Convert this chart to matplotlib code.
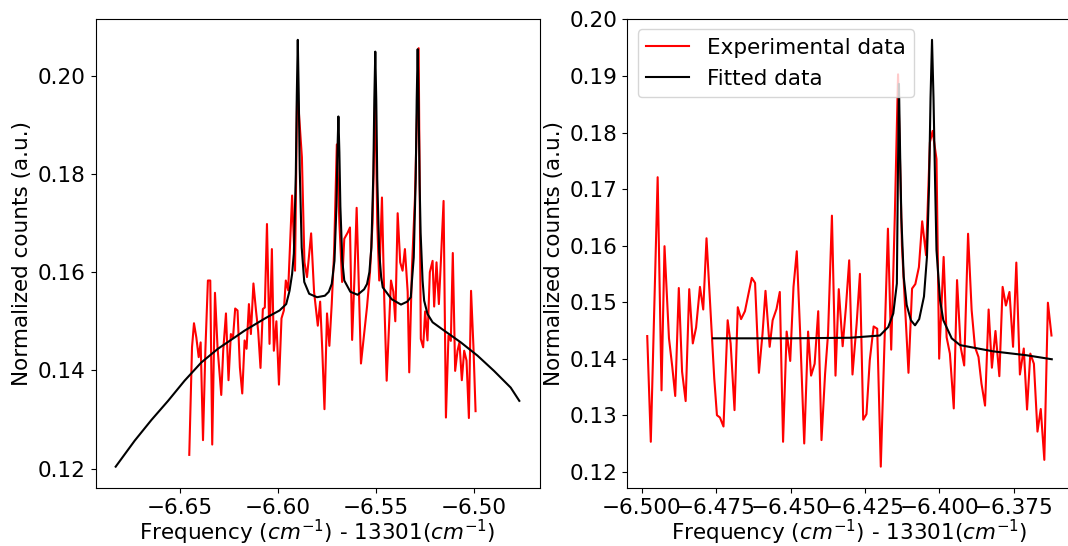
import numpy as np
import matplotlib
matplotlib.use("Agg")
import matplotlib.pyplot as plt

# Left panel - experimental data
x_exp_a = [-6.6451, -6.6437, -6.6427, -6.6415, -6.6403, -6.6393, -6.6381, -6.6369, -6.6356, -6.6344,
           -6.6334, -6.6320, -6.6307, -6.6288, -6.6278, -6.6264, -6.6251, -6.6239, -6.6228, -6.6217,
           -6.6205, -6.6193, -6.6181, -6.6169, -6.6159, -6.6147, -6.6137, -6.6124, -6.6111, -6.6100,
           -6.6088, -6.6076, -6.6066, -6.6055, -6.6042, -6.6030, -6.6020, -6.6007, -6.5994, -6.5981,
           -6.5969, -6.5959, -6.5947, -6.5927, -6.5912, -6.5901, -6.5877, -6.5864, -6.5851, -6.5830,
           -6.5815, -6.5796, -6.5784, -6.5773, -6.5762, -6.5749, -6.5737, -6.5725, -6.5713, -6.5699,
           -6.5686, -6.5672, -6.5661, -6.5643, -6.5632, -6.5621, -6.5610, -6.5598, -6.5576, -6.5561,
           -6.5545, -6.5530, -6.5517, -6.5503, -6.5493, -6.5483, -6.5469, -6.5457, -6.5445, -6.5423,
           -6.5411, -6.5401, -6.5389, -6.5376, -6.5364, -6.5352, -6.5338, -6.5330, -6.5316, -6.5301,
           -6.5282, -6.5271, -6.5259, -6.5249, -6.5237, -6.5225, -6.5211, -6.5203, -6.5191, -6.5179,
           -6.5169, -6.5155, -6.5143, -6.5130, -6.5118, -6.5108, -6.5096, -6.5084, -6.5074, -6.5062,
           -6.5050, -6.5038, -6.5026, -6.5015, -6.5003, -6.4992]
y_exp_a = [0.1228, 0.1447, 0.1496, 0.1467, 0.1427, 0.1457, 0.1258, 0.1440, 0.1583, 0.1583,
           0.1249, 0.1558, 0.1447, 0.1350, 0.1440, 0.1516, 0.1380, 0.1474, 0.1467, 0.1526,
           0.1522, 0.1406, 0.1353, 0.1461, 0.1444, 0.1535, 0.1474, 0.1577, 0.1522, 0.1481,
           0.1405, 0.1525, 0.1528, 0.1698, 0.1454, 0.1647, 0.1440, 0.1500, 0.1371, 0.1506,
           0.1522, 0.1583, 0.1563, 0.1756, 0.1603, 0.1976, 0.1834, 0.1620, 0.1590, 0.1679,
           0.1560, 0.1491, 0.1540, 0.1440, 0.1321, 0.1516, 0.1450, 0.1535, 0.1640, 0.1860,
           0.1700, 0.1580, 0.1668, 0.1681, 0.1691, 0.1462, 0.1580, 0.1731, 0.1414, 0.1470,
           0.1530, 0.1600, 0.1700, 0.1970, 0.1700, 0.1583, 0.1752, 0.1540, 0.1379, 0.1583,
           0.1560, 0.1500, 0.1720, 0.1620, 0.1603, 0.1647, 0.1560, 0.1396, 0.1610, 0.1750,
           0.2056, 0.1464, 0.1447, 0.1520, 0.1461, 0.1600, 0.1623, 0.1530, 0.1620, 0.1535,
           0.1620, 0.1745, 0.1304, 0.1471, 0.1460, 0.1639, 0.1399, 0.1440, 0.1457, 0.1380,
           0.1440, 0.1420, 0.1303, 0.1562, 0.1450, 0.1317]

# Left panel - fitted curve
x_fit_a = [-6.6826, -6.6729, -6.6644, -6.6559, -6.6475, -6.6390, -6.6305, -6.6220, -6.6169, -6.6127,
           -6.6060, -6.5991, -6.5957, -6.5940, -6.5927, -6.5918, -6.5908, -6.5903, -6.5898, -6.5893,
           -6.5888, -6.5878, -6.5865, -6.5840, -6.5800, -6.5760, -6.5740, -6.5725, -6.5711, -6.5701,
           -6.5696, -6.5691, -6.5686, -6.5681, -6.5671, -6.5661, -6.5630, -6.5593, -6.5560, -6.5545,
           -6.5533, -6.5523, -6.5513, -6.5508, -6.5503, -6.5498, -6.5493, -6.5483, -6.5473, -6.5465,
           -6.5420, -6.5372, -6.5340, -6.5322, -6.5317, -6.5307, -6.5297, -6.5292, -6.5287, -6.5282,
           -6.5277, -6.5272, -6.5262, -6.5254, -6.5237, -6.5211, -6.5152, -6.5067, -6.4982, -6.4898,
           -6.4813, -6.4769]
y_fit_a = [0.1204, 0.1257, 0.1299, 0.1338, 0.1379, 0.1416, 0.1444, 0.1467, 0.1481, 0.1491,
           0.1507, 0.1522, 0.1535, 0.1562, 0.1596, 0.1638, 0.1800, 0.1960, 0.2073, 0.1960,
           0.1810, 0.1650, 0.1580, 0.1556, 0.1549, 0.1552, 0.1560, 0.1576, 0.1623, 0.1734,
           0.1844, 0.1917, 0.1844, 0.1734, 0.1623, 0.1583, 0.1560, 0.1554, 0.1565, 0.1576,
           0.1600, 0.1650, 0.1800, 0.1950, 0.2049, 0.1950, 0.1790, 0.1640, 0.1590, 0.1569,
           0.1545, 0.1534, 0.1540, 0.1549, 0.1578, 0.1630, 0.1790, 0.1950, 0.2054, 0.1940,
           0.1780, 0.1680, 0.1583, 0.1542, 0.1515, 0.1498, 0.1481, 0.1457, 0.1430, 0.1399,
           0.1365, 0.1338]

# Right panel - experimental data
x_exp_b = [-6.4981, -6.4969, -6.4946, -6.4933, -6.4923, -6.4908, -6.4897, -6.4887, -6.4875, -6.4864,
           -6.4852, -6.4840, -6.4828, -6.4817, -6.4804, -6.4793, -6.4782, -6.4756, -6.4747, -6.4737,
           -6.4725, -6.4711, -6.4701, -6.4688, -6.4677, -6.4666, -6.4653, -6.4641, -6.4630, -6.4619,
           -6.4606, -6.4594, -6.4584, -6.4570, -6.4560, -6.4547, -6.4536, -6.4525, -6.4513, -6.4501,
           -6.4490, -6.4479, -6.4468, -6.4454, -6.4441, -6.4431, -6.4419, -6.4407, -6.4396, -6.4384,
           -6.4374, -6.4361, -6.4349, -6.4338, -6.4325, -6.4314, -6.4303, -6.4292, -6.4278, -6.4267,
           -6.4256, -6.4245, -6.4234, -6.4221, -6.4209, -6.4197, -6.4186, -6.4173, -6.4162, -6.4150,
           -6.4139, -6.4126, -6.4104, -6.4092, -6.4081, -6.4069, -6.4058, -6.4045, -6.4032, -6.4023,
           -6.4010, -6.4001, -6.3986, -6.3976, -6.3965, -6.3952, -6.3941, -6.3929, -6.3917, -6.3904,
           -6.3892, -6.3881, -6.3869, -6.3859, -6.3847, -6.3835, -6.3824, -6.3812, -6.3799, -6.3788,
           -6.3777, -6.3765, -6.3753, -6.3742, -6.3730, -6.3717, -6.3706, -6.3695, -6.3683, -6.3671,
           -6.3660, -6.3648, -6.3636, -6.3624]
y_exp_b = [0.1440, 0.1253, 0.1721, 0.1344, 0.1599, 0.1436, 0.1386, 0.1334, 0.1525, 0.1377,
           0.1325, 0.1523, 0.1427, 0.1455, 0.1527, 0.1487, 0.1613, 0.1365, 0.1300, 0.1296,
           0.1280, 0.1468, 0.1427, 0.1309, 0.1491, 0.1470, 0.1484, 0.1515, 0.1543, 0.1534,
           0.1375, 0.1444, 0.1520, 0.1421, 0.1468, 0.1488, 0.1518, 0.1253, 0.1448, 0.1396,
           0.1527, 0.1590, 0.1450, 0.1250, 0.1448, 0.1370, 0.1391, 0.1484, 0.1256, 0.1373,
           0.1444, 0.1653, 0.1370, 0.1523, 0.1422, 0.1491, 0.1574, 0.1372, 0.1462, 0.1550,
           0.1292, 0.1302, 0.1397, 0.1457, 0.1453, 0.1209, 0.1403, 0.1630, 0.1416, 0.1650,
           0.1903, 0.1600, 0.1375, 0.1524, 0.1532, 0.1562, 0.1643, 0.1583, 0.1783, 0.1803,
           0.1753, 0.1400, 0.1580, 0.1438, 0.1409, 0.1312, 0.1539, 0.1421, 0.1388, 0.1621,
           0.1486, 0.1421, 0.1403, 0.1356, 0.1317, 0.1487, 0.1384, 0.1449, 0.1369, 0.1527,
           0.1494, 0.1518, 0.1421, 0.1570, 0.1372, 0.1418, 0.1310, 0.1409, 0.1391, 0.1271,
           0.1311, 0.1221, 0.1499, 0.1441]

# Right panel - fitted curve
x_fit_b = [-6.4760, -6.4500, -6.4300, -6.4200, -6.4172, -6.4155, -6.4143, -6.4140, -6.4136, -6.4132,
           -6.4128, -6.4120, -6.4110, -6.4096, -6.4082, -6.4068, -6.4052, -6.4042, -6.4035, -6.4030,
           -6.4025, -6.4020, -6.4015, -6.4010, -6.3998, -6.3987, -6.3959, -6.3931, -6.3820, -6.3707,
           -6.3623]
y_fit_b = [0.1436, 0.1436, 0.1437, 0.1441, 0.1456, 0.1480, 0.1533, 0.1700, 0.1886, 0.1760,
           0.1650, 0.1545, 0.1495, 0.1468, 0.1459, 0.1470, 0.1510, 0.1580, 0.1705, 0.1861,
           0.1964, 0.1861, 0.1720, 0.1592, 0.1503, 0.1468, 0.1436, 0.1424, 0.1413, 0.1406,
           0.1399]

plt.rcParams['font.size'] = 15.5
fig = plt.figure(figsize=(10.68, 5.46), dpi=100)
ax1 = fig.add_axes([95.5 / 1068, 58 / 546, 444 / 1068, 469.5 / 546])
ax2 = fig.add_axes([627 / 1068, 58 / 546, 445 / 1068, 469.5 / 546])

xlabel = 'Frequency ($cm^{-1}$) - 13301($cm^{-1}$)'

ax1.plot(x_exp_a, y_exp_a, 'r', lw=1.5)
ax1.plot(x_fit_a, y_fit_a, 'k', lw=1.5)
ax1.set_xlabel(xlabel, labelpad=0)
ax1.set_ylabel('Normalized counts (a.u.)')

ax2.plot(x_exp_b, y_exp_b, 'r', lw=1.5, label='Experimental data')
ax2.plot(x_fit_b, y_fit_b, 'k', lw=1.5, label='Fitted data')
ax2.set_xlabel(xlabel, labelpad=0)
ax2.set_ylabel('Normalized counts (a.u.)')
ax2.legend(loc='upper left')

fig.savefig('out.png', dpi=100)
